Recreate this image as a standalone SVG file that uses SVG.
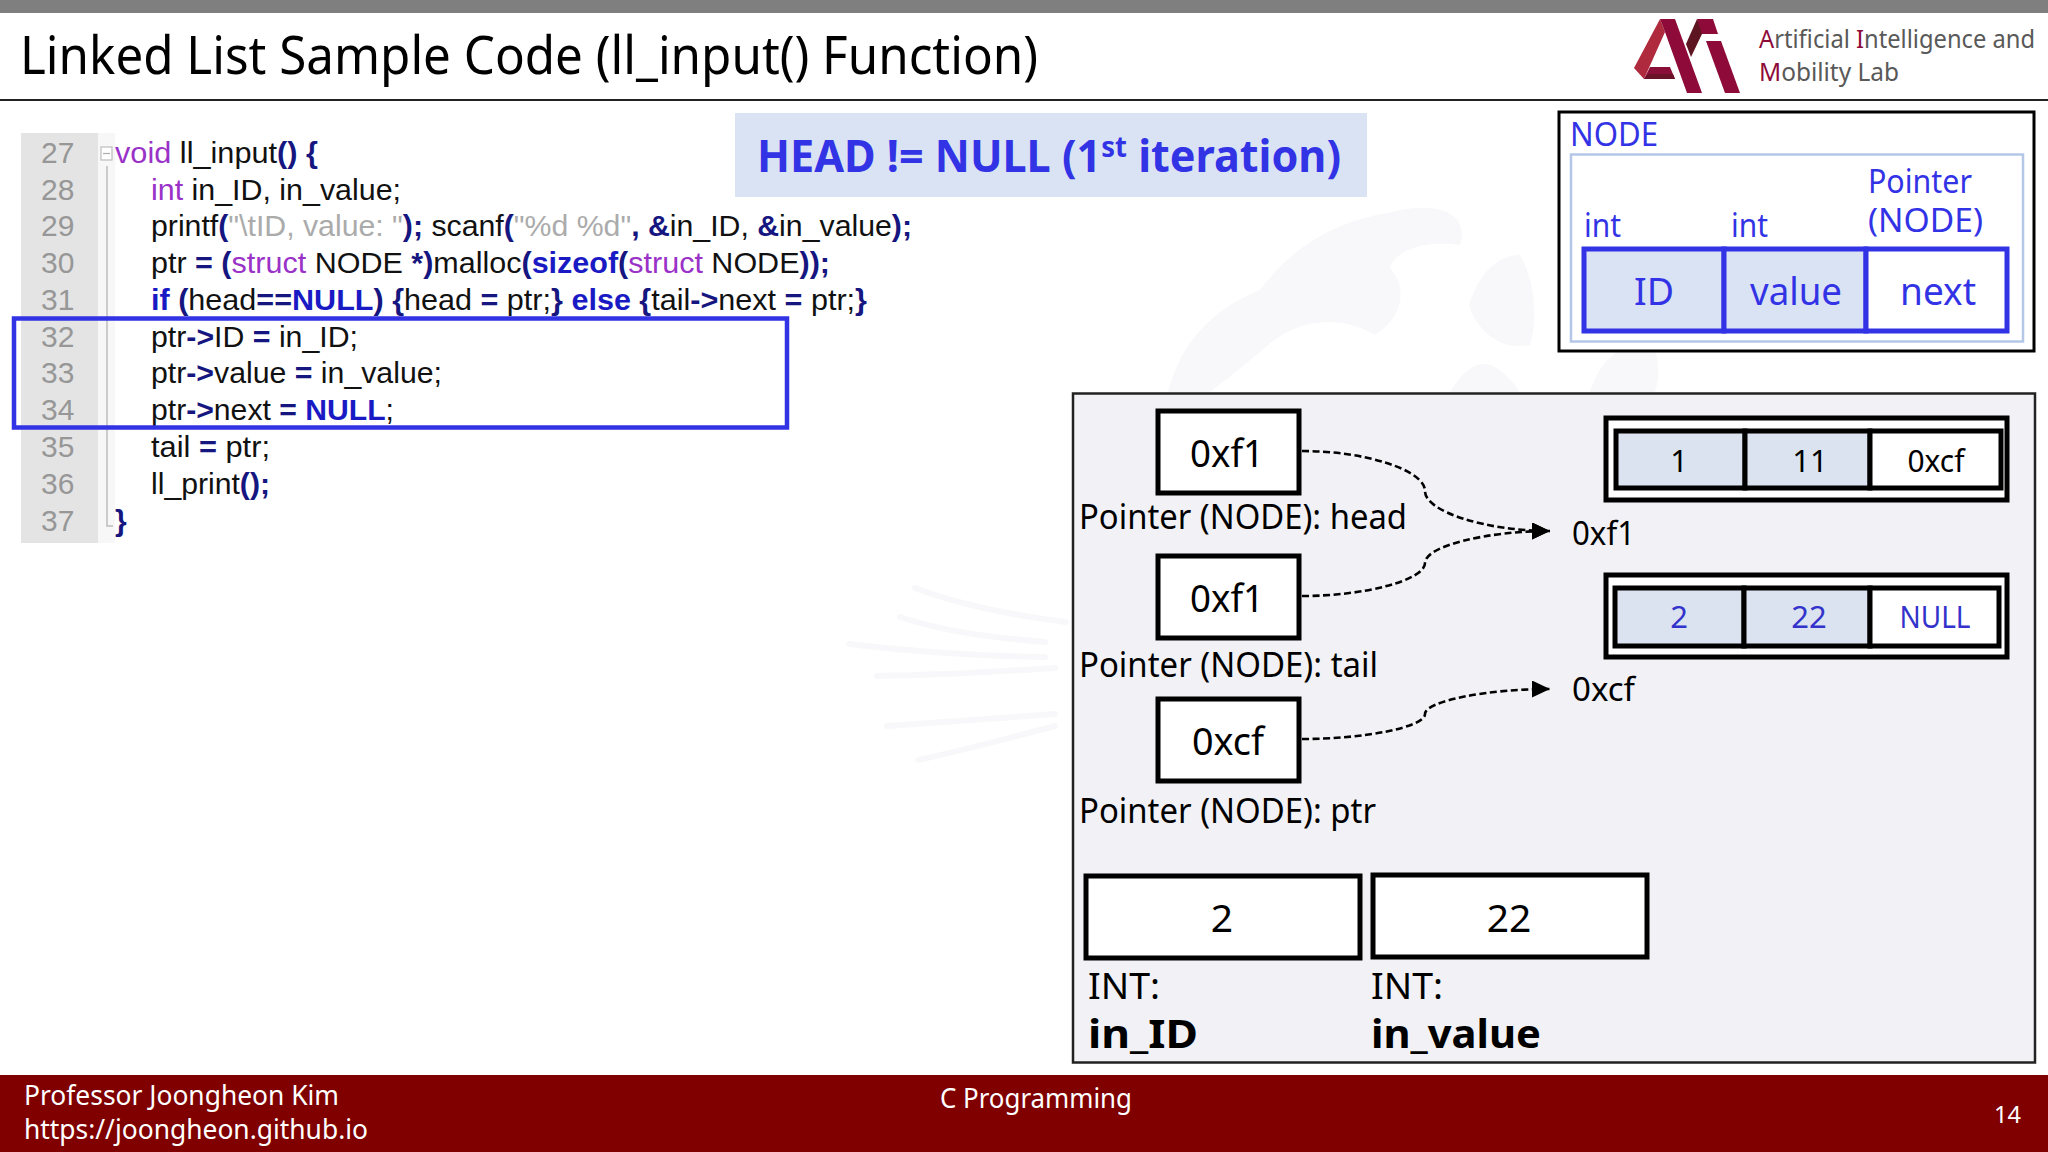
<svg xmlns="http://www.w3.org/2000/svg" width="2048" height="1152" viewBox="0 0 2048 1152">
<style>
text{font-family:"Noto Sans","DejaVu Sans",sans-serif;fill:#000}
.code text,text.code{font-family:"Liberation Sans",Arial,sans-serif;font-size:30px;fill:#111}
.code text.ln{font-family:"Liberation Sans",Arial,sans-serif;font-size:30px;fill:#979797}
.k{fill:#9a32c8}
.b{fill:#1a1ac4;font-weight:bold}
.p{fill:#161680;font-weight:bold}
.s{fill:#ababab}
.blue{fill:#3333e6}
.w{fill:#fff}
.box{fill:#fff;stroke:#000;stroke-width:5}
.cell{stroke:#000;stroke-width:5}
.bc{stroke:#3333e6;stroke-width:5}
.lt{fill:#dae3f3}
.wh{fill:#fff}
.conn{fill:none;stroke:#000;stroke-width:2.6;stroke-dasharray:7 3.5}
.wm{fill:#f8f8fa;stroke:none}
.wl{fill:none;stroke:#f8f8fa;stroke-width:6;stroke-linecap:round}
.m{text-anchor:middle}
</style>
<defs>
<marker id="arr" markerUnits="userSpaceOnUse" markerWidth="20" markerHeight="18" refX="18" refY="8.500" orient="auto"><path d="M0 0L18 8.500L0 17Z" fill="#000"/></marker>
</defs>
<rect width="2048" height="1152" fill="#fff"/>
<g id="watermark">
<path class="wm" d="M1168 392C1180 345 1210 310 1260 290C1290 250 1330 222 1392 212C1440 200 1470 215 1460 245C1425 240 1395 250 1390 268C1410 290 1400 320 1375 335C1340 315 1300 318 1268 345C1245 365 1225 380 1210 392Z"/>
<path class="wm" d="M1469 305C1480 270 1500 255 1520 255C1535 280 1538 320 1530 345C1510 350 1480 340 1469 305ZM1450 392C1470 360 1490 350 1520 392ZM1590 392C1600 360 1620 345 1650 335C1660 360 1660 375 1655 392Z"/>
<path class="wl" d="M915 588C960 605 1010 615 1066 622M900 617C945 632 995 638 1045 642M849 644C915 652 980 656 1045 657M877 676C935 675 995 672 1055 668M887 726C945 722 1000 718 1055 714M918 760C965 750 1010 738 1055 726"/>
</g>
<g id="header">
<rect width="2048" height="13" fill="#7f7f7f"/>
<rect y="99" width="2048" height="2" fill="#222"/>
<text x="20" y="74" font-size="52" textLength="1018" lengthAdjust="spacingAndGlyphs">Linked List Sample Code (ll_input() Function)</text>
</g>
<g id="logo">
<polygon points="1660,19 1634,68 1644,79 1665,32" fill="#b02a3e"/>
<polygon points="1660,19 1675,19 1702,93 1687,93 1665,32" fill="#8e0a38"/>
<polygon points="1644,79 1675,79 1670,67 1650,67" fill="#8a0f38"/>
<polygon points="1644,79 1675,79 1673,74 1648,74" fill="#6a1228"/>
<polygon points="1697,19 1713,19 1718,34 1700,34" fill="#8e0a38"/>
<polygon points="1697,19 1686,44 1691,57 1702,34" fill="#5e1522"/>
<polygon points="1706,41 1721,41 1740,93 1725,93" fill="#8e0a38"/>
<text x="1759" y="48" font-size="26" textLength="276" lengthAdjust="spacingAndGlyphs" style="fill:#595959"><tspan style="fill:#8e0a38">A</tspan>rtificial <tspan style="fill:#8e0a38">I</tspan>ntelligence and</text>
<text x="1759" y="81" font-size="26" textLength="140" lengthAdjust="spacingAndGlyphs" style="fill:#595959"><tspan style="fill:#8e0a38">M</tspan>obility Lab</text>
</g>
<g id="code" class="code">
<rect x="21" y="133" width="77" height="410" fill="#e4e4e4"/>
<rect x="98" y="133" width="17" height="410" fill="#f7f7f7"/>
<path d="M107 166V526H113" fill="none" stroke="#bdbdbd" stroke-width="1.500"/>
<rect x="101" y="147" width="11" height="13" fill="#fff" stroke="#bdbdbd" stroke-width="1.200"/>
<path d="M103 153.500H110" stroke="#aaa" stroke-width="1.200"/>
<text class="ln" x="41" y="163">27</text>
<text class="ln" x="41" y="200">28</text>
<text class="ln" x="41" y="236">29</text>
<text class="ln" x="41" y="273">30</text>
<text class="ln" x="41" y="310">31</text>
<text class="ln" x="41" y="347">32</text>
<text class="ln" x="41" y="383">33</text>
<text class="ln" x="41" y="420">34</text>
<text class="ln" x="41" y="457">35</text>
<text class="ln" x="41" y="494">36</text>
<text class="ln" x="41" y="531">37</text>
<text x="115" y="163" textLength="203" lengthAdjust="spacingAndGlyphs"><tspan class="k">void</tspan> ll_input<tspan class="p">()</tspan> <tspan class="p">{</tspan></text>
<text x="151" y="200" textLength="250" lengthAdjust="spacingAndGlyphs"><tspan class="k">int</tspan> in_ID, in_value;</text>
<text x="151" y="236" textLength="761" lengthAdjust="spacingAndGlyphs">printf<tspan class="p">(</tspan><tspan class="s">"\tID, value: "</tspan><tspan class="p">);</tspan> scanf<tspan class="p">(</tspan><tspan class="s">"%d %d"</tspan><tspan class="p">, &amp;</tspan>in_ID, <tspan class="p">&amp;</tspan>in_value<tspan class="p">);</tspan></text>
<text x="151" y="273" textLength="679" lengthAdjust="spacingAndGlyphs">ptr <tspan class="p">= (</tspan><tspan class="k">struct</tspan> NODE <tspan class="p">*)</tspan>malloc<tspan class="p">(</tspan><tspan class="b">sizeof</tspan><tspan class="p">(</tspan><tspan class="k">struct</tspan> NODE<tspan class="p">));</tspan></text>
<text x="151" y="310" textLength="716" lengthAdjust="spacingAndGlyphs"><tspan class="b">if</tspan> <tspan class="p">(</tspan>head<tspan class="p">==</tspan><tspan class="b">NULL</tspan><tspan class="p">)</tspan> <tspan class="p">{</tspan>head <tspan class="p">=</tspan> ptr;<tspan class="p">}</tspan> <tspan class="b">else</tspan> <tspan class="p">{</tspan>tail<tspan class="p">-&gt;</tspan>next <tspan class="p">=</tspan> ptr;<tspan class="p">}</tspan></text>
<text x="151" y="347" textLength="207" lengthAdjust="spacingAndGlyphs">ptr<tspan class="p">-&gt;</tspan>ID <tspan class="p">=</tspan> in_ID;</text>
<text x="151" y="383" textLength="291" lengthAdjust="spacingAndGlyphs">ptr<tspan class="p">-&gt;</tspan>value <tspan class="p">=</tspan> in_value;</text>
<text x="151" y="420" textLength="243" lengthAdjust="spacingAndGlyphs">ptr<tspan class="p">-&gt;</tspan>next <tspan class="p">=</tspan> <tspan class="b">NULL</tspan>;</text>
<text x="151" y="457" textLength="119" lengthAdjust="spacingAndGlyphs">tail <tspan class="p">=</tspan> ptr;</text>
<text x="151" y="494" textLength="119" lengthAdjust="spacingAndGlyphs">ll_print<tspan class="p">();</tspan></text>
<text x="115" y="531"><tspan class="p">}</tspan></text>
<rect x="14" y="318.500" width="773" height="109" fill="none" stroke="#3333e6" stroke-width="4.500"/>
</g>
<g id="banner">
<rect x="735" y="113" width="632" height="84" fill="#dae3f3"/>
<text x="757" y="172" font-size="44" font-weight="bold" class="blue" textLength="584" lengthAdjust="spacingAndGlyphs">HEAD != NULL (1<tspan font-size="28" dy="-15">st</tspan><tspan dy="15"> iteration)</tspan></text>
</g>
<g id="node-legend">
<rect x="1559" y="112" width="475" height="239" fill="#fff" stroke="#000" stroke-width="3"/>
<rect x="1571" y="154.500" width="452" height="187" fill="#fff" stroke="#b4c7e7" stroke-width="2.500"/>
<text x="1570" y="146" font-size="33" class="blue" textLength="88" lengthAdjust="spacingAndGlyphs">NODE</text>
<text x="1868" y="193" font-size="33" class="blue" textLength="104" lengthAdjust="spacingAndGlyphs">Pointer</text>
<text x="1868" y="232" font-size="33" class="blue" textLength="115" lengthAdjust="spacingAndGlyphs">(NODE)</text>
<text x="1584" y="237" font-size="33" class="blue" textLength="37" lengthAdjust="spacingAndGlyphs">int</text>
<text x="1731" y="237" font-size="33" class="blue" textLength="37" lengthAdjust="spacingAndGlyphs">int</text>
<rect class="lt bc" x="1584" y="249" width="140" height="82"/>
<rect class="lt bc" x="1724" y="249" width="142" height="82"/>
<rect class="wh bc" x="1866" y="249" width="141" height="82"/>
<text x="1654" y="305" font-size="39" class="blue m" textLength="40" lengthAdjust="spacingAndGlyphs">ID</text>
<text x="1796" y="305" font-size="39" class="blue m" textLength="92" lengthAdjust="spacingAndGlyphs">value</text>
<text x="1938" y="305" font-size="39" class="blue m" textLength="76" lengthAdjust="spacingAndGlyphs">next</text>
</g>
<g id="panel">
<rect x="1073" y="393.500" width="962" height="669" fill="#f2f2f6" stroke="#222" stroke-width="2.500"/>
</g>
<g id="ptr-head">
<rect class="box" x="1158" y="411" width="141" height="82"/>
<text class="m" x="1227" y="467" font-size="39" textLength="74" lengthAdjust="spacingAndGlyphs">0xf1</text>
<text x="1079" y="529" font-size="34" textLength="328" lengthAdjust="spacingAndGlyphs">Pointer (NODE): head</text>
</g>
<g id="ptr-tail">
<rect class="box" x="1158" y="556" width="141" height="82"/>
<text class="m" x="1227" y="612" font-size="39" textLength="74" lengthAdjust="spacingAndGlyphs">0xf1</text>
<text x="1079" y="677" font-size="34" textLength="299" lengthAdjust="spacingAndGlyphs">Pointer (NODE): tail</text>
</g>
<g id="ptr-ptr">
<rect class="box" x="1158" y="699" width="141" height="82"/>
<text class="m" x="1228" y="755" font-size="39" textLength="72" lengthAdjust="spacingAndGlyphs">0xcf</text>
<text x="1079" y="823" font-size="34" textLength="297" lengthAdjust="spacingAndGlyphs">Pointer (NODE): ptr</text>
</g>
<g id="list-node-1">
<rect class="box" x="1606" y="418" width="401" height="82"/>
<rect class="lt cell" x="1616" y="431" width="129" height="57" style="fill:#dae3ef"/>
<rect class="lt cell" x="1745" y="431" width="125" height="57" style="fill:#dae3ef"/>
<rect class="wh cell" x="1870" y="431" width="131" height="57"/>
<text class="m" x="1679" y="472" font-size="31">1</text>
<text class="m" x="1810" y="472" font-size="31">11</text>
<text class="m" x="1936" y="472" font-size="31" textLength="57" lengthAdjust="spacingAndGlyphs">0xcf</text>
<text x="1572" y="545" font-size="32" textLength="63" lengthAdjust="spacingAndGlyphs">0xf1</text>
</g>
<g id="list-node-2">
<rect class="box" x="1606" y="575" width="401" height="82"/>
<rect class="lt cell" x="1615" y="588" width="129" height="58" style="fill:#dae3ef"/>
<rect class="lt cell" x="1744" y="588" width="126" height="58" style="fill:#dae3ef"/>
<rect class="wh cell" x="1870" y="588" width="129" height="58"/>
<text class="m" x="1679" y="628" font-size="31" style="fill:#3333cc">2</text>
<text class="m" x="1809" y="628" font-size="31" style="fill:#3333cc">22</text>
<text class="m" x="1935" y="628" font-size="31" textLength="71" lengthAdjust="spacingAndGlyphs" style="fill:#3333cc">NULL</text>
<text x="1572" y="701" font-size="32" textLength="63" lengthAdjust="spacingAndGlyphs">0xcf</text>
</g>
<g id="var-in-id">
<rect class="box" x="1086" y="876" width="274" height="82"/>
<text class="m" x="1222" y="932" font-size="39">2</text>
<text x="1088" y="999" font-size="37" textLength="72" lengthAdjust="spacingAndGlyphs">INT:</text>
<text x="1088" y="1048" font-size="39" font-weight="bold" textLength="110" lengthAdjust="spacingAndGlyphs">in_ID</text>
</g>
<g id="var-in-value">
<rect class="box" x="1373" y="875" width="274" height="82"/>
<text class="m" x="1509" y="932" font-size="39">22</text>
<text x="1371" y="999" font-size="37" textLength="72" lengthAdjust="spacingAndGlyphs">INT:</text>
<text x="1371" y="1048" font-size="39" font-weight="bold" textLength="170" lengthAdjust="spacingAndGlyphs">in_value</text>
</g>
<g id="connectors">
<path class="conn" marker-end="url(#arr)" d="M1302 451C1365 451 1425 470 1425 491C1425 512 1487 531 1550 531"/>
<path class="conn" marker-end="url(#arr)" d="M1302 596C1365 596 1425 580 1425 563C1425 546 1487 531 1550 531"/>
<path class="conn" marker-end="url(#arr)" d="M1302 739C1365 739 1425 727 1425 714C1425 701 1487 689 1550 689"/>
</g>
<g id="footer">
<rect y="1075" width="2048" height="77" fill="#800000"/>
<text class="w" x="24" y="1105" font-size="28" textLength="315" lengthAdjust="spacingAndGlyphs">Professor Joongheon Kim</text>
<text class="w" x="24" y="1139" font-size="28" textLength="344" lengthAdjust="spacingAndGlyphs">https://joongheon.github.io</text>
<text class="w" x="940" y="1108" font-size="28" textLength="192" lengthAdjust="spacingAndGlyphs">C Programming</text>
<text class="w" x="1994" y="1123" font-size="24" textLength="27" lengthAdjust="spacingAndGlyphs">14</text>
</g>
</svg>
